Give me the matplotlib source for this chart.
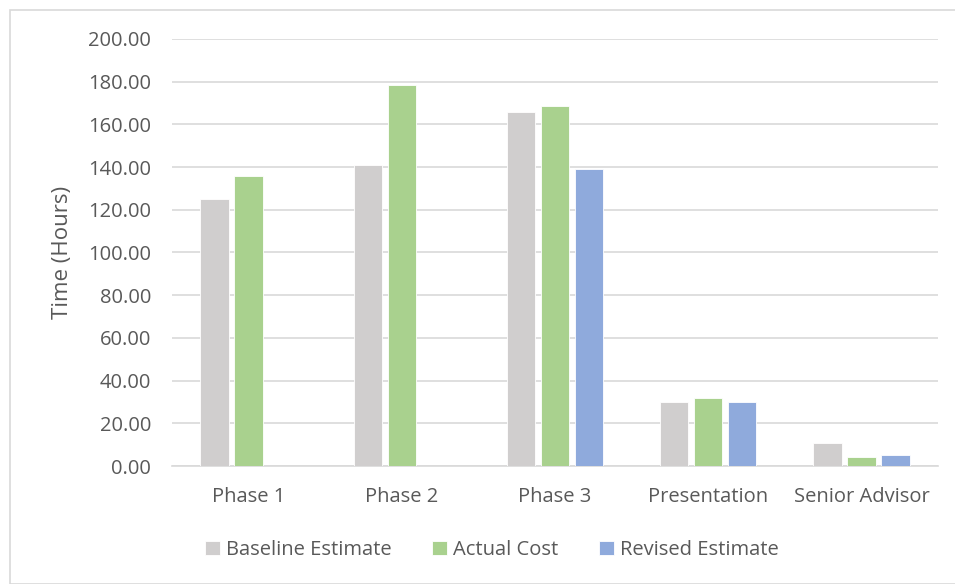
import numpy as np
import matplotlib.pyplot as plt
from matplotlib.patches import Rectangle

# categories and hours per series
phases = ['Phase 1', 'Phase 2', 'Phase 3', 'Presentation', 'Senior Advisor']
baseline = [125.0, 141.0, 166.0, 30.0, 11.0]
actual = [136.0, 178.5, 168.5, 32.0, 4.3]
revised = [0.0, 0.0, 139.0, 30.0, 5.3]

series_names = ['Baseline Estimate', 'Actual Cost', 'Revised Estimate']
colors = ['#D0CECE', '#A9D18E', '#8FAADC']
yticks = [0, 20, 40, 60, 80, 100, 120, 140, 160, 180, 200]

plt.rcParams['font.family'] = ['Open Sans', 'DejaVu Sans']
txt_color = '#595959'

fig = plt.figure(figsize=(9.55, 5.84), dpi=100)
ax = fig.add_axes([172/955, 1-466/584, (938-172)/955, (466-39)/584])

# light frame around the chart area
fig.patches.append(Rectangle((9.5/955, 0), 1, 1-9.5/584, transform=fig.transFigure,
                             fill=False, edgecolor='#D9D9D9', linewidth=1.2))

x = np.arange(len(phases))
step = 0.222
width = 0.185
for i, (vals, name, c) in enumerate(zip([baseline, actual, revised], series_names, colors)):
    ax.bar(x + (i-1)*step, vals, width, color=c, edgecolor='white', linewidth=0.6,
           label=name, zorder=3)

ax.set_xlim(-0.5, len(phases)-0.5)
ax.set_ylim(0, 200)
ax.set_yticks(yticks)
ax.set_yticklabels(['%.2f' % v for v in yticks])
ax.set_xticks(x)
ax.set_xticklabels(phases)
ax.grid(axis='y', color='#D9D9D9', linewidth=1.2, zorder=0)
for s in ['top', 'right', 'left']:
    ax.spines[s].set_visible(False)
ax.spines['bottom'].set_color('#D9D9D9')
ax.spines['bottom'].set_linewidth(1.2)
ax.tick_params(axis='both', length=0, labelsize=14.5, colors=txt_color)
ax.tick_params(axis='x', pad=15)
ax.tick_params(axis='y', pad=15)
ax.set_ylabel('Time (Hours)', fontsize=16, color=txt_color, labelpad=11)

fig.legend(loc='center', bbox_to_anchor=(492/955, 1-550/584), ncol=3, frameon=False,
           fontsize=14.5, labelcolor=txt_color, handlelength=0.75, handleheight=0.75,
           handletextpad=0.3, columnspacing=2.0)

fig.savefig('out.png', dpi=100)
